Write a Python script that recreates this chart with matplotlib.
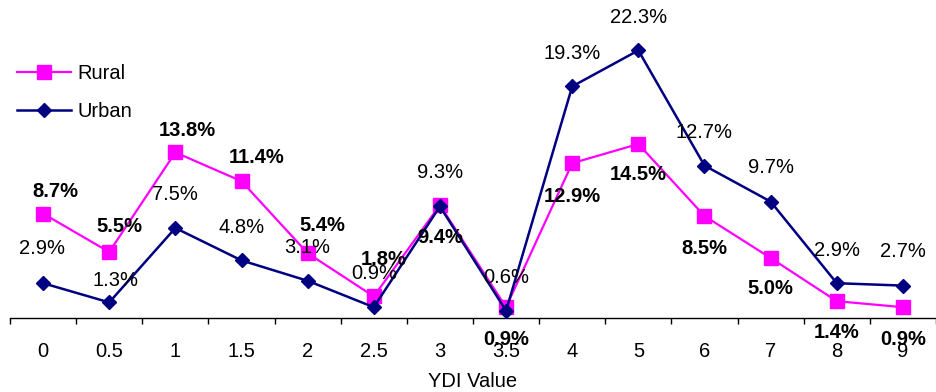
import matplotlib
matplotlib.use('Agg')
import matplotlib.pyplot as plt
import numpy as np

plt.rcParams['font.family'] = ['Liberation Sans', 'DejaVu Sans']

# YDI categories and percentages
categories = ['0', '0.5', '1', '1.5', '2', '2.5', '3', '3.5', '4', '5', '6', '7', '8', '9']
rural = [8.7, 5.5, 13.8, 11.4, 5.4, 1.8, 9.4, 0.9, 12.9, 14.5, 8.5, 5.0, 1.4, 0.9]
urban = [2.9, 1.3, 7.5, 4.8, 3.1, 0.9, 9.3, 0.6, 19.3, 22.3, 12.7, 9.7, 2.9, 2.7]

# label offsets in pixels (dx, dy), roughly where Excel put them
rural_off = [(12, 22), (10, 25), (12, 22), (15, 24), (15, 28), (10, 37), (0, -32),
             (0, -32), (0, -33), (0, -31), (0, -33), (0, -30), (0, -31), (0, -32)]
urban_off = [(-1, 35), (6, 22), (0, 33), (0, 33), (0, 33), (0, 34), (0, 34),
             (0, 33), (0, 33), (0, 33), (0, 33), (0, 34), (0, 33), (0, 34)]

RURAL_C = '#FF00FF'
URBAN_C = '#000080'

fig = plt.figure(figsize=(9.36, 3.92), dpi=100)
ax = fig.add_axes([10 / 936, 74 / 392, 926 / 936, 312 / 392])

x = np.arange(len(categories))
ax.plot(x, rural, color=RURAL_C, lw=1.6, marker='s', ms=10, mec=RURAL_C,
        label='Rural', zorder=3, clip_on=False)
ax.plot(x, urban, color=URBAN_C, lw=1.8, marker='D', ms=7.5, mec=URBAN_C,
        label='Urban', zorder=4, clip_on=False)

for xi, v, (dx, dy) in zip(x, urban, urban_off):
    ax.annotate(f'{v:.1f}%', (xi, v), xytext=(dx, dy), textcoords='offset pixels',
                ha='center', va='center', fontsize=14.5, zorder=5)
for xi, v, (dx, dy) in zip(x, rural, rural_off):
    ax.annotate(f'{v:.1f}%', (xi, v), xytext=(dx, dy), textcoords='offset pixels',
                ha='center', va='center', fontsize=14.5, fontweight='bold', zorder=6)

ax.set_xlim(-0.5, len(categories) - 0.5)
ax.set_ylim(0, 26)
ax.set_xticks(x)
ax.set_xticklabels(categories)
ax.set_xticks(np.arange(-0.5, len(categories)), minor=True)
ax.tick_params(axis='x', which='major', length=0, pad=17, labelsize=14.5)
ax.tick_params(axis='x', which='minor', length=4.5, width=1, direction='out')
ax.set_yticks([])
for s in ['left', 'right', 'top']:
    ax.spines[s].set_visible(False)
ax.spines['bottom'].set_linewidth(1)
ax.set_xlabel('YDI Value', fontsize=14.5, labelpad=8)

fig.legend(loc='upper left', bbox_to_anchor=(17 / 936, 1 - 64 / 392), frameon=False,
           fontsize=14.5, handlelength=2.7, handletextpad=0.3, labelspacing=0.95,
           borderpad=0, borderaxespad=0)

fig.savefig('out.png', dpi=100)
